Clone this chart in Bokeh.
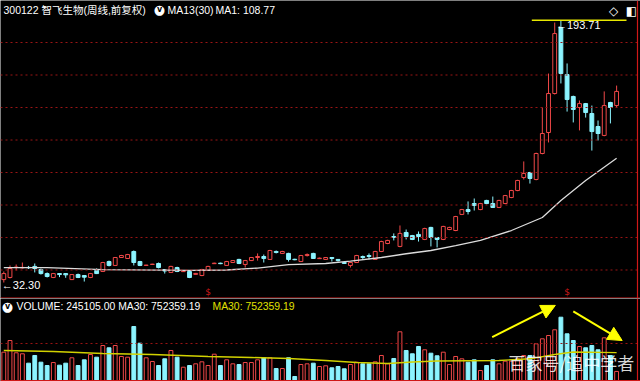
from bokeh.plotting import figure
from bokeh.layouts import column
from bokeh.models import Range1d, Span, Label, Arrow, NormalHead, ColumnDataSource
from bokeh.embed import file_html
from bokeh.resources import INLINE
from bokeh.core.properties import value

# ---------------- data (weekly candles) ----------------
opens = [34.1, 35.4, 41.5, 41.3, 41.6, 42.2, 40.3, 37.8, 35.4, 37.8,
         37.8, 34.1, 37.2, 36.6, 35.4, 39.7, 39.1, 45.2, 42.8, 47.7,
         47.1, 51.4, 45.2, 42.8, 43.4, 44.0, 40.3, 38.5, 41.5, 39.0,
         39.1, 37.3, 36.6, 39.7, 43.9, 44.2, 42.8, 44.6, 46.5, 43.4,
         45.8, 47.7, 48.3, 46.5, 51.4, 50.2, 50.2, 46.6, 45.2, 48.9,
         50.2, 47.0, 46.5, 47.7, 46.5, 44.6, 42.8, 44.6, 48.3, 48.9,
         46.5, 51.4, 56.3, 60.6, 54.5, 63.1, 61.2, 61.9, 58.8, 66.2,
         60.0, 58.8, 64.9, 64.3, 74.2, 77.2, 80.9, 77.2, 82.8, 80.9,
         78.5, 80.9, 84.6, 88.9, 96.9, 100.0, 95.7, 111.7, 124.6, 148.6,
         189.2, 160.3, 146.8, 140.0, 142.4, 136.3, 128.3, 122.8, 143.1, 141.2]
highs = [39.1, 42.8, 43.4, 44.6, 42.5, 44.0, 40.9, 38.5, 38.2, 38.0,
         38.0, 37.5, 37.8, 36.8, 38.2, 41.0, 45.0, 45.8, 48.0, 49.3,
         49.9, 52.0, 45.6, 43.2, 43.8, 44.6, 40.5, 42.6, 42.0, 39.6,
         39.5, 38.2, 40.7, 42.6, 44.5, 44.5, 45.6, 46.1, 46.9, 46.2,
         48.0, 50.2, 49.5, 52.4, 52.0, 51.8, 50.6, 46.9, 49.3, 50.2,
         50.6, 47.6, 48.0, 47.9, 46.7, 44.9, 44.9, 49.3, 48.9, 50.2,
         51.8, 58.0, 58.6, 62.5, 67.4, 64.9, 61.6, 63.7, 66.0, 66.6,
         60.3, 67.2, 66.6, 73.3, 77.6, 82.2, 84.0, 81.3, 83.2, 85.2,
         83.2, 86.2, 89.3, 95.5, 106.8, 100.4, 112.2, 140.0, 160.9, 192.3,
         193.71, 167.1, 147.3, 144.3, 142.8, 141.2, 132.0, 149.9, 143.5, 153.5]
lows = [32.3, 34.8, 39.7, 40.9, 40.6, 38.5, 37.2, 35.4, 35.0, 35.6,
        35.2, 33.8, 35.0, 32.9, 35.0, 37.5, 38.8, 42.2, 42.5, 47.4,
        46.8, 42.8, 42.4, 42.6, 43.2, 41.0, 37.8, 38.2, 38.7, 38.8,
        35.0, 37.0, 36.2, 39.4, 43.7, 43.6, 42.5, 44.3, 43.6, 41.5,
        45.5, 45.8, 44.6, 46.2, 50.2, 49.9, 45.2, 46.0, 44.9, 48.3,
        46.8, 46.8, 46.2, 45.2, 45.2, 43.7, 41.5, 44.3, 46.5, 46.5,
        46.2, 51.0, 55.9, 58.2, 54.0, 58.8, 58.4, 57.5, 58.4, 54.5,
        53.9, 58.4, 64.5, 63.9, 73.8, 74.2, 76.6, 76.8, 80.5, 78.2,
        78.1, 80.5, 84.2, 88.5, 95.7, 93.2, 95.2, 111.2, 118.5, 148.0,
        154.8, 137.5, 130.8, 125.9, 133.8, 113.5, 119.7, 122.3, 130.2, 140.0]
closes = [37.8, 40.9, 41.8, 41.6, 41.4, 40.9, 37.8, 36.0, 37.8, 37.2,
          37.0, 37.2, 35.4, 35.6, 37.8, 37.8, 44.6, 42.8, 47.7, 48.9,
          49.5, 44.6, 42.8, 43.0, 43.6, 41.5, 39.4, 42.2, 39.1, 39.3,
          35.4, 37.9, 40.3, 42.2, 44.2, 43.9, 45.2, 45.8, 44.0, 45.8,
          47.7, 48.3, 47.1, 52.0, 50.8, 51.4, 46.5, 46.3, 48.9, 49.5,
          47.1, 47.3, 47.7, 47.1, 45.8, 44.0, 44.6, 48.9, 47.7, 48.3,
          51.4, 57.5, 58.2, 60.0, 62.5, 60.6, 58.8, 60.6, 65.5, 60.0,
          58.8, 66.8, 66.2, 72.9, 77.2, 76.0, 79.7, 80.9, 80.9, 78.5,
          82.8, 85.8, 88.9, 95.1, 99.4, 96.3, 111.7, 124.0, 148.6, 185.5,
          160.9, 144.9, 138.8, 142.4, 136.9, 125.2, 124.0, 141.2, 140.0, 149.9]
volumes = [765000, 1081000, 749000, 722000, 468000, 676000, 495000, 405000, 486000, 414000,
           468000, 614000, 405000, 559000, 703000, 630000, 946000, 884000, 946000, 649000,
           630000, 1459000, 1008000, 614000, 514000, 405000, 586000, 811000, 630000, 359000,
           405000, 451000, 505000, 405000, 711000, 405000, 559000, 451000, 432000, 486000,
           486000, 559000, 614000, 614000, 324000, 324000, 614000, 108000, 432000, 451000,
           468000, 378000, 397000, 343000, 378000, 316000, 432000, 495000, 451000, 451000,
           505000, 676000, 451000, 595000, 1316000, 811000, 722000, 919000, 830000, 738000,
           668000, 765000, 432000, 649000, 586000, 495000, 559000, 270000, 405000, 559000,
           451000, 522000, 522000, 586000, 676000, 676000, 992000, 1127000, 1216000, 1370000,
           1711000, 1262000, 1081000, 919000, 884000, 946000, 830000, 1154000, 676000, 245105]

# price moving average (white line), sampled at candle indices
ma_idx = [0, 7, 16, 30, 36, 41, 46, 52, 56, 61, 65, 69, 73, 77, 82, 87, 90, 94, 99]
ma_val = [41.5, 41.5, 40.2, 39.8, 40.0, 41.2, 43.3, 44.0, 45.4, 47.7, 50.0, 52.0, 55.0,
          58.2, 64.3, 72.3, 82.8, 95.1, 108.77]
# volume MA30 (yellow line)
vma_idx = [0, 8, 16, 24, 33, 40, 46, 52, 57, 62, 66, 70, 80, 85, 89, 92, 99]
vma_val = [811000, 784000, 730000, 703000, 649000, 622000, 595000, 541000, 486000,
           459000, 500000, 527000, 541000, 586000, 703000, 770000, 752359.19]

price_grid = [40, 60, 80, 100, 120, 140, 160, 180]
vol_grid = [1000000]
marker_idx = [33, 91]          # red "$" marks
title_text = "300122 智飞生物(周线,前复权)"
watermark = "百家号/追中学者"

# ---------------- styling ----------------
BG = "#000000"
UP = "#F04848"
DN = "#8CF4FF"
GRID = "#9A1414"
SEP = "#D01818"
MA_C = "#DCDCDC"
VMA_C = "#D2D200"
FONT = "Liberation Sans, Noto Sans CJK SC"

W, H1, H2 = 640, 298, 83
XSTEP = 6.19
x0 = -3.3 / XSTEP
xr = Range1d(x0, x0 + W / XSTEP)
x_right = x0 + 637 / XSTEP

n = len(opens)
idx = list(range(n))
up = [c >= o for o, c in zip(opens, closes)]
col = [UP if u else DN for u in up]
fill = [BG if u else DN for u in up]
src = ColumnDataSource(dict(
    x=idx, o=opens, h=highs, l=lows, c=closes,
    top=[max(o, c) for o, c in zip(opens, closes)],
    bot=[min(o, c) for o, c in zip(opens, closes)],
    vol=volumes, col=col, fill=fill))

def base_fig(h, yr):
    f = figure(width=W, height=h, x_range=xr, y_range=yr, output_backend="svg",
               toolbar_location=None, x_axis_location=None, y_axis_location=None,
               min_border=0, background_fill_color=BG, border_fill_color=BG,
               outline_line_color=None)
    f.xgrid.visible = False
    f.ygrid.visible = False
    return f

def screen_label(fig, x, y, text, color="white", size="10.5px", font=FONT, align="left",
                 style="normal", alpha=1.0):
    fig.add_layout(Label(x=x, y=y, x_units="screen", y_units="screen", text=text,
                         text_color=color, text_font=font, text_font_size=size,
                         text_baseline="middle", text_align=align,
                         text_font_style=style, text_alpha=alpha))

# ---------------- price panel ----------------
p = base_fig(H1, Range1d(22.46, 205.85))
for g in price_grid:
    p.add_layout(Span(location=g, dimension="width", line_color=GRID,
                      line_dash="2 3", line_width=1))
p.segment(x0="x", y0="l", x1="x", y1="h", color="col", line_width=1, source=src)
p.vbar(x="x", width=0.62, top="top", bottom="bot", fill_color="fill",
       line_color="col", line_width=1, source=src)
p.line(ma_idx, ma_val, color=MA_C, line_width=1.3)

hi = max(highs)
hi_i = highs.index(hi)
lo = min(lows)
lo_i = lows.index(lo)
p.segment(x0=[hi_i - 4.7], y0=[hi], x1=[hi_i + 10.6], y1=[hi], color="#E8E800", line_width=1.5)
p.add_layout(Label(x=hi_i, y=hi, x_offset=-5, y_offset=-5, text="\u2190%.2f" % hi,
                   text_color="white", text_font=FONT, text_font_size="11px",
                   text_baseline="middle"))
p.add_layout(Label(x=lo_i, y=lo, x_offset=-2, y_offset=-2, text="\u2190%.2f" % lo,
                   text_color="white", text_font=FONT, text_font_size="11px",
                   text_baseline="middle"))
p.text(x=marker_idx, y=[26.3] * len(marker_idx), text=["$"] * len(marker_idx),
       text_color=SEP, text_font_size="9px", text_align="center",
       text_baseline="middle", text_font=value("DejaVu Sans"))
p.add_layout(Span(location=22.77, dimension="width", line_color=SEP, line_width=1.2))
p.add_layout(Span(location=x_right, dimension="height", line_color=SEP, line_width=1.2))

# header
screen_label(p, 3, H1 - 9, title_text)
screen_label(p, 159, H1 - 9, "\u25cf", size="13px", font="DejaVu Sans", align="center")
screen_label(p, 159, H1 - 9, "v", color="black", size="8px", font="DejaVu Sans",
             align="center", style="bold")
screen_label(p, 167, H1 - 9, "MA13(30)")
screen_label(p, 215, H1 - 9, "MA1: %.2f" % ma_val[-1])
screen_label(p, 613, H1 - 10, "\u25c7", size="12px", font="DejaVu Sans", align="center")
screen_label(p, 631, H1 - 10, "\u25e7", size="12px", font="DejaVu Sans", align="center")

# ---------------- volume panel ----------------
VPX = 27027.0
v = base_fig(H2, Range1d(-1 * VPX, 82 * VPX))
for g in vol_grid:
    v.add_layout(Span(location=g, dimension="width", line_color=GRID,
                      line_dash="2 3", line_width=1))
v.vbar(x="x", width=0.62, top="vol", bottom=0, fill_color="fill",
       line_color="col", line_width=1, source=src)
v.line(vma_idx, vma_val, color=VMA_C, line_width=1.4)
v.add_layout(Span(location=0, dimension="width", line_color=SEP, line_width=1.2))
v.add_layout(Span(location=x_right, dimension="height", line_color=SEP, line_width=1.2))

screen_label(v, 7, H2 - 8, "\u25cf", size="13px", font="DejaVu Sans", align="center")
screen_label(v, 7, H2 - 8, "v", color="black", size="8px", font="DejaVu Sans",
             align="center", style="bold")
screen_label(v, 16, H2 - 8, "VOLUME: %.2f MA30: %.2f" % (volumes[-1], vma_val[-1]),
             size="10.4px")
screen_label(v, 212, H2 - 8, "MA30: %.2f" % vma_val[-1], color="#E0E000", size="10.4px")

arrow_x0 = [78.9, 92.0]
arrow_x1 = [89.1, 99.9]
arrow_y0 = [1170000, 1870000]
arrow_y1 = [2030000, 1080000]
for ax0, ay0, ax1, ay1 in zip(arrow_x0, arrow_y0, arrow_x1, arrow_y1):
    v.add_layout(Arrow(end=NormalHead(size=14, fill_color="#FFFF00", line_color="#FFFF00"),
                       x_start=ax0, y_start=ay0, x_end=ax1, y_end=ay1,
                       line_color="#FFFF00", line_width=2))

screen_label(v, 508, 19, watermark, size="17px", font="Noto Sans CJK SC", alpha=0.85)

layout = column(p, v, spacing=0)
open("out.html", "w").write(file_html(layout, INLINE))
